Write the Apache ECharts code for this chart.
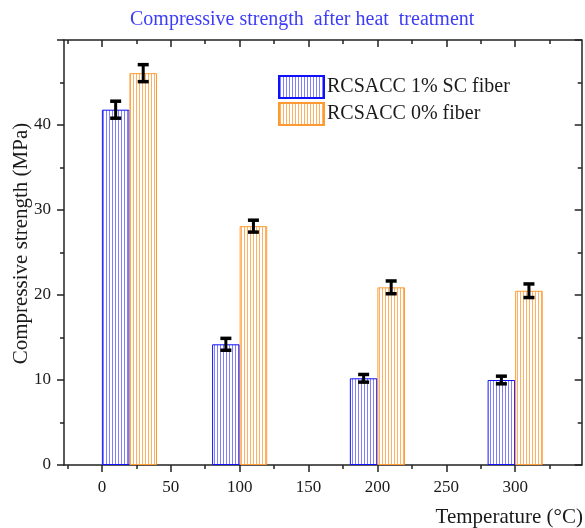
<!DOCTYPE html>
<html><head><meta charset="utf-8">
<script src="https://cdn.jsdelivr.net/npm/echarts@6/dist/echarts.min.js"></script>
<style>html,body{margin:0;padding:0;background:#fff}#c{width:585px;height:528px}</style>
</head><body><div id="c"></div>
<script>
const temperatures = [20, 100, 200, 300];
const sc1Values = [41.8, 14.2, 10.2, 10.0];
const sc1Errors = [1.0, 0.7, 0.45, 0.45];
const fiber0Values = [46.1, 28.1, 20.9, 20.5];
const fiber0Errors = [1.0, 0.7, 0.75, 0.8];
const xTickLabels = [0, 50, 100, 150, 200, 250, 300];
const xMinorTicks = [-25, 25, 75, 125, 175, 225, 275, 325];
const yTickLabels = [0, 10, 20, 30, 40];
const seriesNames = ['RCSACC 1% SC fiber', 'RCSACC 0% fiber'];
const barSpan = 20; // width of each bar in temperature units

const FONT = 'Liberation Serif';
const TXT = '#1a1a1a';
const AX = '#222';
const X_MIN = -27.5, X_MAX = 348.3;

function hatch(line) {
  const c = document.createElement('canvas');
  c.width = 3; c.height = 6;
  const g = c.getContext('2d');
  g.fillStyle = line;
  g.fillRect(1, 0, 1, 6);
  return c;
}
const blueFill = { image: hatch('#8080ff'), repeat: 'repeat' };
const orangeFill = { image: hatch('#ffb060'), repeat: 'repeat' };

const gridBox = { left: 64, right: 3.3, top: 40, bottom: 63, containLabel: false, outerBoundsMode: 'none' };
const lineStyle = { color: AX, width: 1.5 };

function errRender(offset) {
  return function (params, api) {
    const t = api.value(0) + offset, v = api.value(1), e = api.value(2);
    const top = api.coord([t, v + e]);
    const bot = api.coord([t, v - e]);
    const hw = 5.5;
    const st = { stroke: '#000', lineWidth: 3.5 };
    return {
      type: 'group',
      children: [
        { type: 'line', shape: { x1: top[0], y1: top[1], x2: bot[0], y2: bot[1] }, style: { stroke: '#000', lineWidth: 3 } },
        { type: 'line', shape: { x1: top[0] - hw, y1: top[1], x2: top[0] + hw, y2: top[1] }, style: st },
        { type: 'line', shape: { x1: bot[0] - hw, y1: bot[1], x2: bot[0] + hw, y2: bot[1] }, style: st }
      ]
    };
  };
}

const chart = echarts.init(document.getElementById('c'), null, { renderer: 'canvas' });

function buildOption(barPx) {
  const xBase = { type: 'value', min: X_MIN, max: X_MAX, splitLine: { show: false } };
  return {
    animation: false,
    backgroundColor: '#fff',
    title: [
      { text: 'Compressive strength  after heat  treatment', left: 130, top: 10, padding: 0,
        textStyle: { fontFamily: FONT, fontSize: 20, fontWeight: 'normal', color: '#3d3df5' } },
      { text: 'Temperature (°C)', right: 2, top: 507, padding: 0,
        textStyle: { fontFamily: FONT, fontSize: 21, fontWeight: 'normal', color: TXT } }
    ],
    legend: {
      data: seriesNames, orient: 'vertical', left: 278, top: 75, padding: 0,
      itemWidth: 45, itemHeight: 22, itemGap: 3, icon: 'rect',
      textStyle: { fontFamily: FONT, fontSize: 20, color: TXT, padding: [0, 0, 0, -2] }
    },
    grid: [Object.assign({}, gridBox), Object.assign({}, gridBox)],
    xAxis: [
      Object.assign({}, xBase, { gridIndex: 0, position: 'bottom',
        axisLine: { show: true, onZero: false, lineStyle },
        axisTick: { show: true, inside: false, length: 7, customValues: xTickLabels, lineStyle },
        axisLabel: { customValues: xTickLabels, margin: 14, fontFamily: FONT, fontSize: 17, color: TXT } }),
      Object.assign({}, xBase, { gridIndex: 0, position: 'top',
        axisLine: { show: true, onZero: false, lineStyle },
        axisTick: { show: true, inside: true, length: 7, customValues: xTickLabels, lineStyle },
        axisLabel: { show: false } }),
      Object.assign({}, xBase, { gridIndex: 1, position: 'bottom',
        axisLine: { show: false, onZero: false },
        axisTick: { show: true, inside: false, length: 4, customValues: xMinorTicks, lineStyle },
        axisLabel: { show: false } }),
      Object.assign({}, xBase, { gridIndex: 1, position: 'top',
        axisLine: { show: false, onZero: false },
        axisTick: { show: true, inside: true, length: 4, customValues: xMinorTicks, lineStyle },
        axisLabel: { show: false } })
    ],
    yAxis: [
      { type: 'value', gridIndex: 0, position: 'left', min: 0, max: 50, interval: 10,
        splitLine: { show: false },
        axisLine: { show: true, onZero: false, lineStyle },
        axisTick: { show: true, inside: false, length: 7, lineStyle },
        minorTick: { show: true, splitNumber: 2, length: 4, lineStyle },
        axisLabel: { customValues: yTickLabels, margin: 13, fontFamily: FONT, fontSize: 17, color: TXT },
        name: 'Compressive strength (MPa)', nameLocation: 'middle', nameGap: 32, nameMoveOverlap: false,
        nameTextStyle: { fontFamily: FONT, fontSize: 21, color: TXT, padding: [0, 0, 0, 18] } },
      { type: 'value', gridIndex: 0, position: 'right', min: 0, max: 50, interval: 10,
        splitLine: { show: false },
        axisLine: { show: true, onZero: false, lineStyle },
        axisTick: { show: true, inside: true, length: 7, lineStyle },
        minorTick: { show: true, splitNumber: 2, length: 4, lineStyle },
        axisLabel: { show: false } },
      { type: 'value', gridIndex: 1, min: 0, max: 50, show: false }
    ],
    series: [
      { name: seriesNames[0], type: 'bar', xAxisIndex: 0, yAxisIndex: 0,
        barWidth: barPx, barGap: '0%',
        itemStyle: { color: blueFill, borderColor: '#1010ff', borderWidth: 1 },
        data: temperatures.map((t, i) => [t, sc1Values[i]]) },
      { name: seriesNames[1], type: 'bar', xAxisIndex: 0, yAxisIndex: 0,
        barWidth: barPx, barGap: '0%',
        itemStyle: { color: orangeFill, borderColor: '#ff9a33', borderWidth: 1 },
        data: temperatures.map((t, i) => [t, fiber0Values[i]]) },
      { name: 'err1', type: 'custom', xAxisIndex: 0, yAxisIndex: 0, z: 5,
        renderItem: errRender(-barSpan / 2),
        data: temperatures.map((t, i) => [t, sc1Values[i], sc1Errors[i]]) },
      { name: 'err0', type: 'custom', xAxisIndex: 0, yAxisIndex: 0, z: 5,
        renderItem: errRender(barSpan / 2),
        data: temperatures.map((t, i) => [t, fiber0Values[i], fiber0Errors[i]]) }
    ]
  };
}

chart.setOption(buildOption(20));
const px = chart.convertToPixel({ xAxisIndex: 0 }, barSpan) - chart.convertToPixel({ xAxisIndex: 0 }, 0);
chart.setOption(buildOption(px));
</script>
</body></html>
